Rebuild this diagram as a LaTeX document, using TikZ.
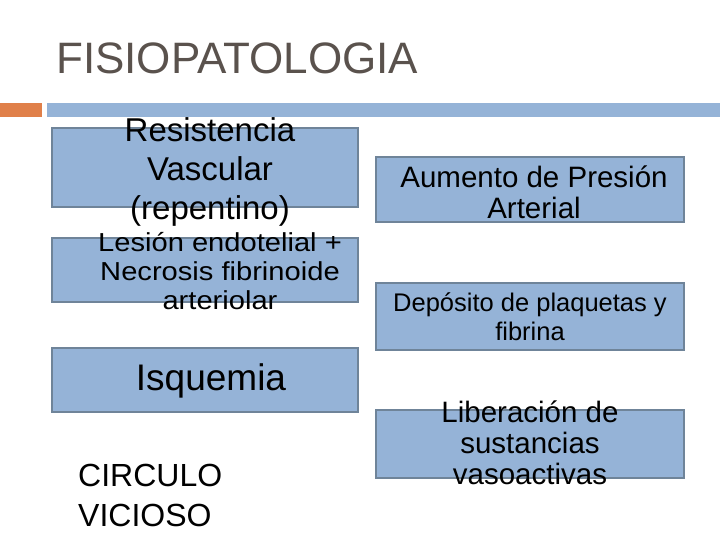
\documentclass[tikz,border=0pt]{standalone}
\usepackage{fontspec}
\setmainfont{Liberation Sans}
\begin{document}
\begin{tikzpicture}[x=1pt,y=-1pt,
 box/.style={draw=boxline,fill=boxfill,line width=1.5pt},
 txt/.style={align=center,text=black,inner sep=0pt}]
\definecolor{boxfill}{HTML}{95B3D7}
\definecolor{boxline}{HTML}{6F8499}
\definecolor{orng}{HTML}{E0804A}
\definecolor{titlec}{HTML}{5A524D}
\useasboundingbox (0,0) rectangle (720,540);
\node[anchor=west,text=titlec,font=\fontsize{44}{50}\selectfont,inner sep=0pt] (title) at (56,58) {FISIOPATOLOGIA};
\fill[orng] (0,103) rectangle (42,117);
\fill[boxfill] (47,103) rectangle (720,117);
% left
\draw[box] (52,128) rectangle (358,207);
\node[txt,font=\fontsize{33}{39}\selectfont] (b1) at (210,172) {Resistencia\\Vascular\\(repentino)};
\draw[box] (52,238) rectangle (358,302);
\node[txt,xscale=1.12,font=\fontsize{26}{29}\selectfont] (b2) at (220,271) {Lesión endotelial +\\Necrosis fibrinoide\\arteriolar};
\draw[box] (52,348) rectangle (358,412);
\node[txt,font=\fontsize{37}{40}\selectfont] (b3) at (211,381) {Isquemia};
\node[txt,anchor=north west,align=left,font=\fontsize{32}{40}\selectfont] (cv) at (78,464) {CIRCULO\\VICIOSO};
% right
\draw[box] (376,157) rectangle (684,222);
\node[txt,font=\fontsize{29.5}{31}\selectfont] (r1) at (534,192) {Aumento de Presión\\Arterial};
\draw[box] (376,283) rectangle (684,350);
\node[txt,font=\fontsize{25.5}{29}\selectfont] (r2) at (530,317) {Depósito de plaquetas y\\fibrina};
\draw[box] (376,410) rectangle (684,478);
\node[txt,font=\fontsize{29.5}{31}\selectfont] (r3) at (530,443) {Liberación de\\sustancias\\vasoactivas};
\end{tikzpicture}
\end{document}
